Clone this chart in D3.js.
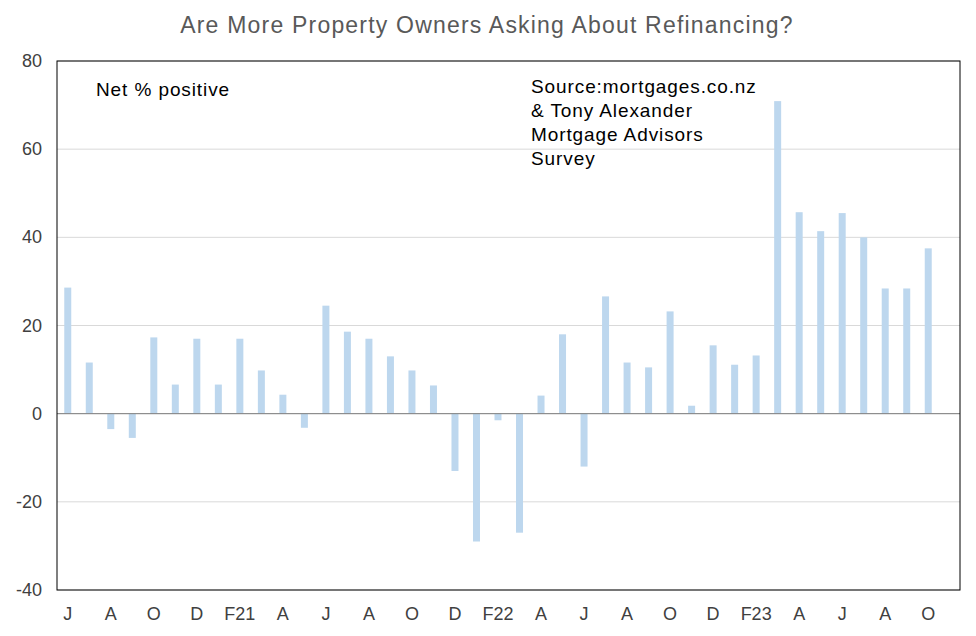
<!DOCTYPE html>
<html><head><meta charset="utf-8">
<script src="https://cdn.jsdelivr.net/npm/d3@7"></script>
<style>body{margin:0;background:#fff;font-family:Arial,"Liberation Sans",sans-serif}</style>
</head><body>
<script>
var labels = ['J','A','O','D','F21','A','J','A','O','D','F22','A','J','A','O','D','F23','A','J','A','O'];
var values = [28.6,11.6,-3.5,-5.5,17.3,6.6,17,6.6,17,9.8,4.3,-3.2,24.5,18.6,17,13,9.8,6.4,-13,-29,-1.5,-27,
  4.1,18,-12,26.6,11.6,10.5,23.2,1.8,15.5,11.1,13.2,70.9,45.7,41.4,45.5,40,28.4,28.4,37.5];
var yTicks = [-40,-20,0,20,40,60,80];

var W = 976, H = 636, m = {l:57, r:16, t:61, b:46};
var svg = d3.select('body').append('svg').attr('width', W).attr('height', H);
// bars occupy 41 slots; plot area runs on a bit to the right
var x = d3.scaleBand().domain(d3.range(values.length)).range([57, 939]);
var y = d3.scaleLinear().domain([-40, 80]).range([H - m.b, m.t]);

svg.append('text').attr('x', 487).attr('y', 33).attr('text-anchor', 'middle')
  .attr('font-size', 23).attr('letter-spacing', 1.2).attr('fill', '#595959')
  .text('Are More Property Owners Asking About Refinancing?');

svg.selectAll('.grid').data(yTicks).enter().append('line')
  .attr('x1', m.l).attr('x2', W - m.r).attr('y1', d => y(d)).attr('y2', d => y(d))
  .attr('stroke', '#d9d9d9');

svg.selectAll('.yl').data(yTicks).enter().append('text')
  .attr('x', 42).attr('y', d => y(d) + 6).attr('text-anchor', 'end')
  .attr('font-size', 18).attr('fill', '#404040').text(d => d);

svg.selectAll('rect.bar').data(values).enter().append('rect')
  .attr('x', (d, i) => x(i) + x.bandwidth() / 2 - 3.5).attr('width', 7)
  .attr('y', d => y(Math.max(0, d))).attr('height', d => Math.abs(y(d) - y(0)))
  .attr('fill', '#bdd7ee');

svg.append('line').attr('x1', m.l).attr('x2', W - m.r).attr('y1', y(0)).attr('y2', y(0)).attr('stroke', '#7f7f7f');

svg.selectAll('.xl').data(labels).enter().append('text')
  .attr('x', (d, i) => x(i * 2) + x.bandwidth() / 2).attr('y', 620).attr('text-anchor', 'middle')
  .attr('font-size', 18).attr('fill', '#404040').text(d => d);

svg.append('rect').attr('x', m.l).attr('y', m.t).attr('width', W - m.r - m.l).attr('height', H - m.b - m.t)
  .attr('fill', 'none').attr('stroke', '#000');

svg.append('text').attr('x', 96).attr('y', 96).attr('font-size', 19).attr('letter-spacing', 0.9).text('Net % positive');
['Source:mortgages.co.nz', '& Tony Alexander', 'Mortgage Advisors', 'Survey'].forEach(function(t, i) {
  svg.append('text').attr('x', 531).attr('y', 93 + i * 24).attr('font-size', 19).attr('letter-spacing', 0.9).text(t);
});
</script>
</body></html>
